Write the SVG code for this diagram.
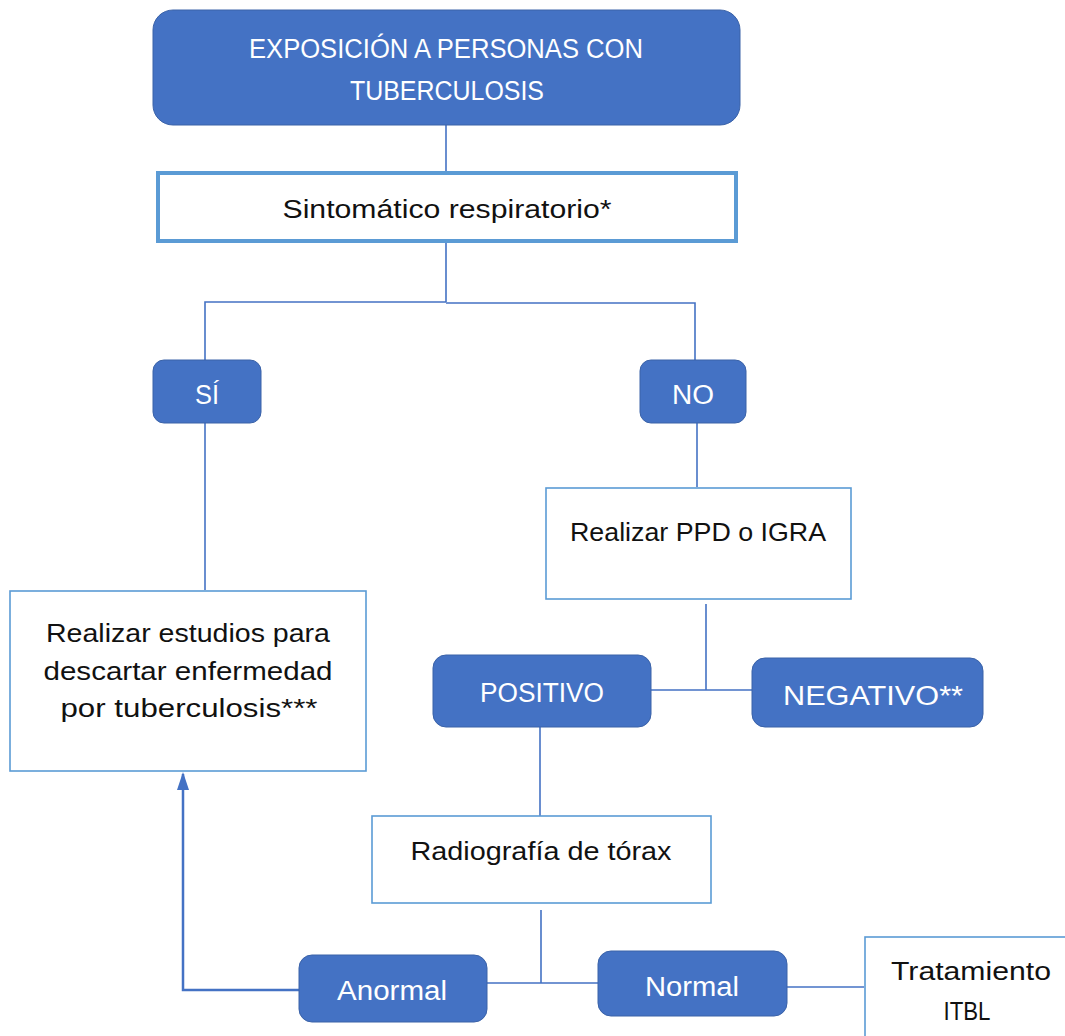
<svg xmlns="http://www.w3.org/2000/svg" width="1065" height="1036" viewBox="0 0 1065 1036">
<defs>
<style>
.fill{fill:#4472C4;stroke:#3A62A8;stroke-width:1}
.box{fill:#fff;stroke:#5B9BD5;stroke-width:1.6}
.boxT{fill:#fff;stroke:#5B9BD5;stroke-width:4}
.wt{font-family:"Liberation Sans",Arial,sans-serif;font-size:27px;fill:#fff;text-anchor:middle}
.bt{font-family:"Liberation Sans",Arial,sans-serif;font-size:26px;fill:#111;text-anchor:middle}
.ln{fill:none;stroke:#4472C4;stroke-width:1.6}
.ar{fill:none;stroke:#4472C4;stroke-width:2.5}
</style>
<marker id="ah" markerWidth="18" markerHeight="12" refX="16" refY="6" orient="auto" markerUnits="userSpaceOnUse" viewBox="0 0 18 12">
<path d="M0,0 L18,6 L0,12 Z" fill="#4472C4"/>
</marker>
</defs>
<rect width="1065" height="1036" fill="#fff"/>
<g id="connectors">
<path class="ln" d="M446,125 V172"/>
<path class="ln" d="M446,242 V302 M205,360 V302 H446 M446,303 H695 V360"/>
<path class="ln" d="M205,423 V590"/>
<path class="ln" d="M697,423 V487"/>
<path class="ln" d="M706,604 V690 M651,690 H752"/>
<path class="ln" d="M540,727 V817"/>
<path class="ln" d="M541,910 V983 M487,983 H598"/>
<path class="ln" d="M787,987 H864"/>
<path class="ar" d="M299,990 H183 V774" marker-end="url(#ah)"/>
</g>
<g id="n1">
<rect class="fill" x="153" y="10" width="587" height="115" rx="20"/>
<text class="wt" x="446" y="58" textLength="394" lengthAdjust="spacingAndGlyphs">EXPOSICIÓN A PERSONAS CON</text>
<text class="wt" x="447" y="100" textLength="194" lengthAdjust="spacingAndGlyphs">TUBERCULOSIS</text>
</g>
<g id="n2">
<rect class="boxT" x="158" y="173" width="578" height="68"/>
<text class="bt" x="447" y="218" textLength="329" lengthAdjust="spacingAndGlyphs">Sintomático respiratorio*</text>
</g>
<g id="n3">
<rect class="fill" x="153" y="360" width="108" height="63" rx="11"/>
<text class="wt" x="207" y="404" textLength="24" lengthAdjust="spacingAndGlyphs">SÍ</text>
</g>
<g id="n4">
<rect class="fill" x="640" y="360" width="106" height="63" rx="11"/>
<text class="wt" x="693" y="404" textLength="42" lengthAdjust="spacingAndGlyphs">NO</text>
</g>
<g id="n5">
<rect class="box" x="10" y="591" width="356" height="180"/>
<text class="bt" x="188" y="642" textLength="284" lengthAdjust="spacingAndGlyphs">Realizar estudios para</text>
<text class="bt" x="188" y="680" textLength="289" lengthAdjust="spacingAndGlyphs">descartar enfermedad</text>
<text class="bt" x="189" y="717" textLength="257" lengthAdjust="spacingAndGlyphs">por tuberculosis***</text>
</g>
<g id="n6">
<rect class="box" x="546" y="488" width="305" height="111"/>
<text class="bt" x="698" y="541" textLength="256" lengthAdjust="spacingAndGlyphs">Realizar PPD o IGRA</text>
</g>
<g id="n7">
<rect class="fill" x="433" y="655" width="218" height="72" rx="13"/>
<text class="wt" x="542" y="702" textLength="124" lengthAdjust="spacingAndGlyphs">POSITIVO</text>
</g>
<g id="n8">
<rect class="fill" x="752" y="658" width="231" height="69" rx="13"/>
<text class="wt" x="873" y="705" textLength="180" lengthAdjust="spacingAndGlyphs">NEGATIVO**</text>
</g>
<g id="n9">
<rect class="box" x="372" y="816" width="339" height="87"/>
<text class="bt" x="541" y="860" textLength="261" lengthAdjust="spacingAndGlyphs">Radiografía de tórax</text>
</g>
<g id="n10">
<rect class="fill" x="299" y="955" width="188" height="67" rx="13"/>
<text class="wt" x="392" y="1000" textLength="110" lengthAdjust="spacingAndGlyphs">Anormal</text>
</g>
<g id="n11">
<rect class="fill" x="598" y="951" width="189" height="65" rx="13"/>
<text class="wt" x="692" y="996" textLength="94" lengthAdjust="spacingAndGlyphs">Normal</text>
</g>
<g id="n12">
<rect class="box" x="865" y="937" width="210" height="110"/>
<text class="bt" x="971" y="980" textLength="160" lengthAdjust="spacingAndGlyphs">Tratamiento</text>
<text class="bt" x="967" y="1020" textLength="47" lengthAdjust="spacingAndGlyphs">ITBL</text>
</g>
</svg>
